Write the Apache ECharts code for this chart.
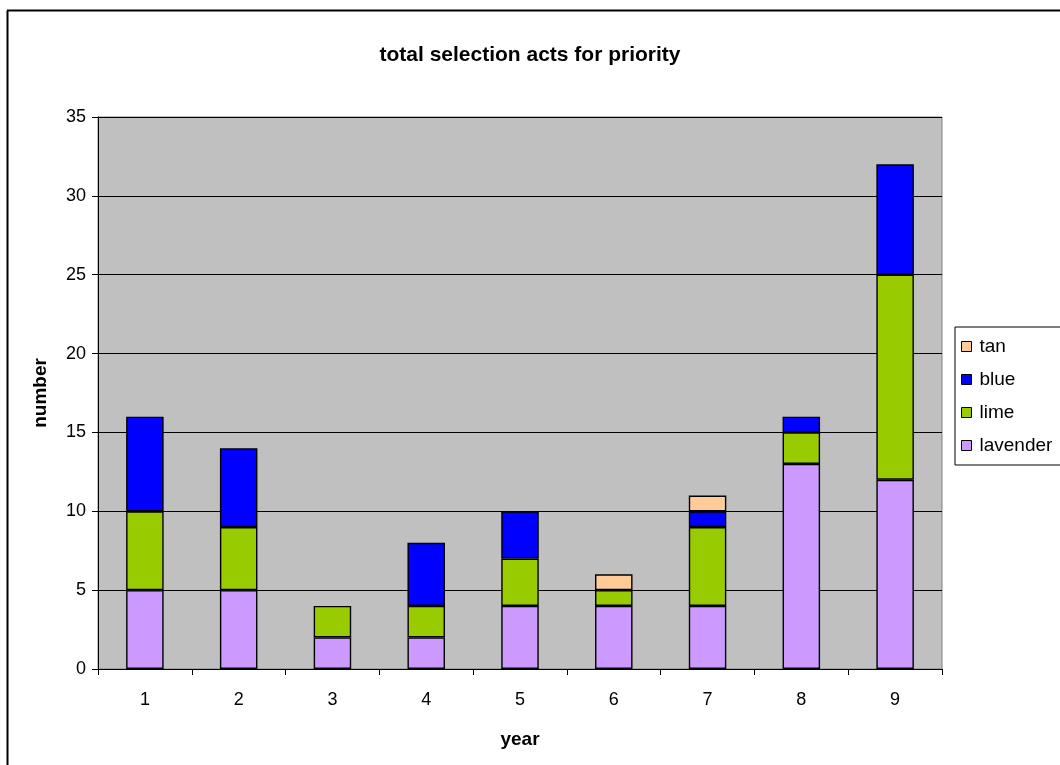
<!DOCTYPE html>
<html>
<head>
<meta charset="utf-8">
<script src="https://cdn.jsdelivr.net/npm/echarts@6/dist/echarts.min.js"></script>
<style>
  html, body { margin: 0; padding: 0; background: #fff; }
  #chart { width: 1060px; height: 765px; }
</style>
</head>
<body>
<div id="chart"></div>
<script>
// Selection acts per year, split by priority colour
const years = ['1', '2', '3', '4', '5', '6', '7', '8', '9'];
const lavender = [5, 5, 2, 2, 4, 4, 4, 13, 12];
const lime = [5, 4, 2, 2, 3, 1, 5, 2, 13];
const blue = [6, 5, '-', 4, 3, '-', 1, 1, 7];
const tan = ['-', '-', '-', '-', '-', 1, 1, '-', '-'];
const yTicks = [0, 5, 10, 15, 20, 25, 30, 35];

const FONT = '"Liberation Sans", Arial, sans-serif';

function barSeries(name, data, color) {
  return {
    name: name,
    type: 'bar',
    stack: 'total',
    data: data,
    barWidth: '40%',
    itemStyle: { color: color, borderColor: '#000', borderWidth: 1.4 },
    emphasis: { disabled: true }
  };
}

const chart = echarts.init(document.getElementById('chart'), null, { renderer: 'canvas' });
chart.setOption({
  animation: false,
  textStyle: { fontFamily: FONT },
  title: {
    text: 'total selection acts for priority',
    left: 'center',
    top: 40,
    textStyle: { fontFamily: FONT, fontSize: 21, fontWeight: 'bold', color: '#000' }
  },
  grid: {
    left: 98, right: 118, top: 117, bottom: 96,
    show: true,
    backgroundColor: '#C0C0C0',
    borderColor: '#808080',
    borderWidth: 1
  },
  legend: {
    orient: 'vertical',
    left: 955,
    top: 327,
    data: ['tan', 'blue', 'lime', 'lavender'],
    icon: 'rect',
    itemWidth: 10,
    itemHeight: 10,
    itemGap: 12,
    padding: [9, 12, 9, 6],
    borderColor: '#000',
    borderWidth: 1,
    backgroundColor: '#fff',
    itemStyle: { borderColor: '#000', borderWidth: 1 },
    textStyle: { fontFamily: FONT, fontSize: 19, color: '#000', lineHeight: 21, padding: [0, 0, 0, 3] }
  },
  xAxis: {
    type: 'category',
    data: years,
    name: 'year',
    nameLocation: 'middle',
    nameGap: 61,
    nameTextStyle: { fontFamily: FONT, fontSize: 19, fontWeight: 'bold', color: '#000' },
    axisLine: { lineStyle: { color: '#000', width: 1 } },
    axisTick: { show: true, length: 6, lineStyle: { color: '#000' } },
    axisLabel: { fontFamily: FONT, fontSize: 18, color: '#000', margin: 22 },
    splitLine: { show: false }
  },
  yAxis: {
    type: 'value',
    min: 0,
    max: 35,
    interval: 5,
    name: 'number',
    nameLocation: 'middle',
    nameGap: 48,
    nameRotate: 90,
    nameTextStyle: { fontFamily: FONT, fontSize: 19, fontWeight: 'bold', color: '#000' },
    axisLine: { show: true, lineStyle: { color: '#000', width: 1 } },
    axisTick: { show: true, length: 6, lineStyle: { color: '#000' } },
    axisLabel: {
      fontFamily: FONT, fontSize: 18, color: '#000', margin: 12,
      formatter: function (v) { return yTicks.indexOf(v) >= 0 ? String(v) : ''; }
    },
    splitLine: { show: true, lineStyle: { color: '#000', width: 1 } }
  },
  series: [
    barSeries('lavender', lavender, '#CC99FF'),
    barSeries('lime', lime, '#99CC00'),
    barSeries('blue', blue, '#0000FF'),
    barSeries('tan', tan, '#FFCC99')
  ],
  graphic: [
    // outer chart frame (left and top edges)
    { type: 'line', shape: { x1: 7.5, y1: 10.5, x2: 7.5, y2: 765 }, style: { stroke: '#000', lineWidth: 2 }, silent: true },
    { type: 'line', shape: { x1: 7, y1: 10.5, x2: 1060, y2: 10.5 }, style: { stroke: '#000', lineWidth: 2 }, silent: true }
  ]
});
</script>
</body>
</html>
